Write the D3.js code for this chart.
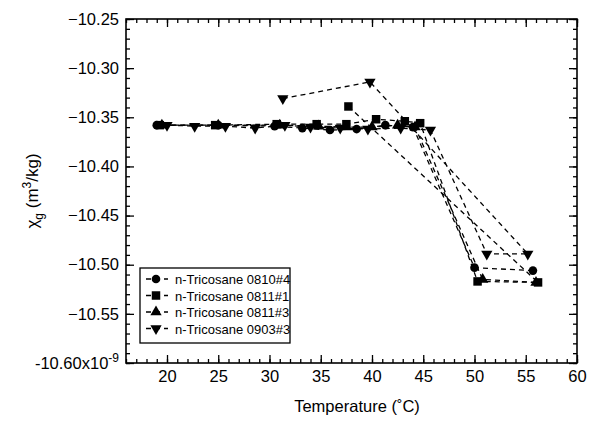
<!DOCTYPE html>
<html>
<head>
<meta charset="utf-8">
<script src="https://cdn.jsdelivr.net/npm/d3@7/dist/d3.min.js"></script>
<style>
body { margin: 0; background: #fff; }
text { font-family: "Liberation Sans", Arial, sans-serif; }
</style>
</head>
<body>
<div id="chart"></div>
<script>
// series labels, in legend order
const seriesNames = ["n-Tricosane 0810#4", "n-Tricosane 0811#1", "n-Tricosane 0811#3", "n-Tricosane 0903#3"];

// temperatures (C) and susceptibility (x1e-9 m3/kg), in measuring order
const tempA = [55.7, 50.0, 44.0, 41.3, 38.5, 35.9, 33.2, 30.5, 25.0, 19.0];
const chiA  = [-10.506, -10.503, -10.360, -10.358, -10.362, -10.363, -10.361, -10.359, -10.358, -10.358];

const tempB = [37.7, 56.2, 50.3, 44.7, 43.2, 40.4, 37.5, 34.6, 30.7, 24.7, 19.3];
const chiB  = [-10.339, -10.518, -10.517, -10.356, -10.354, -10.352, -10.357, -10.357, -10.357, -10.358, -10.358];

const tempC = [56.0, 50.8, 44.2, 42.5, 40.0, 37.5, 34.8, 31.0, 25.0, 19.5];
const chiC  = [-10.518, -10.515, -10.360, -10.358, -10.360, -10.360, -10.359, -10.358, -10.358, -10.358];

const tempD = [31.3, 39.8, 55.2, 51.2, 45.7, 42.8, 39.6, 36.9, 34.0, 31.5, 28.6, 25.7, 22.7, 20.0];
const chiD  = [-10.331, -10.314, -10.489, -10.489, -10.363, -10.361, -10.362, -10.361, -10.360, -10.358, -10.361, -10.359, -10.359, -10.358];

const xTicks = [20, 25, 30, 35, 40, 45, 50, 55, 60];
const yTicks = [-10.25, -10.30, -10.35, -10.40, -10.45, -10.50, -10.55, -10.60];

const width = 597, height = 421;
const margin = { left: 126, right: 20, top: 19, bottom: 58 };

const svg = d3.select("#chart").append("svg")
    .attr("width", width)
    .attr("height", height);

const x = d3.scaleLinear().domain([16, 60]).range([margin.left, width - margin.right]);
const y = d3.scaleLinear().domain([-10.60, -10.25]).range([height - margin.bottom, margin.top]);

const x0 = x.range()[0], x1 = x.range()[1];
const y0 = y.range()[0], y1 = y.range()[1];

const xMinor = d3.range(16, 60.01, 1);
const yMinor = d3.range(0, 36).map(i => -10.60 + i * 0.01);

// ticks on all four sides, pointing in
function addAxis(axisFn, scale, pos, major, minor, labels) {
    const g = svg.append("g").attr("transform", pos);
    g.call(axisFn(scale).tickValues(minor).tickSize(-4).tickFormat(""));
    const gm = svg.append("g").attr("transform", pos);
    gm.call(axisFn(scale).tickValues(major).tickSize(-8).tickPadding(7)
        .tickFormat(labels ? labels : ""));
    [g, gm].forEach(a => {
        a.select(".domain").remove();
        a.selectAll("line").attr("stroke", "#000").attr("stroke-width", 1.3);
    });
    return gm;
}

const xg = addAxis(d3.axisBottom, x, `translate(0,${y0})`, xTicks, xMinor, d3.format("d"));
addAxis(d3.axisTop, x, `translate(0,${y1})`, xTicks, xMinor, null);
const yg = addAxis(d3.axisLeft, y, `translate(${x0},0)`, yTicks, yMinor, d3.format(".2f"));
addAxis(d3.axisRight, y, `translate(${x1},0)`, yTicks, yMinor, null);

xg.selectAll("text").attr("font-size", 16.5).attr("fill", "#000")
    .attr("font-family", "Liberation Sans, Arial, sans-serif");
yg.selectAll("text").attr("font-size", 16.5).attr("fill", "#000")
    .attr("font-family", "Liberation Sans, Arial, sans-serif");

// exponent on the bottom label
yg.selectAll(".tick text").filter(d => Math.abs(d + 10.60) < 1e-9)
    .text("-10.60x10")
    .append("tspan").attr("dy", -7).attr("font-size", 12).text("-9");

// plot frame
svg.append("rect")
    .attr("x", x0).attr("y", y1)
    .attr("width", x1 - x0).attr("height", y0 - y1)
    .attr("fill", "none").attr("stroke", "#000").attr("stroke-width", 1.6);

const series = [
    { name: seriesNames[0], t: tempA, v: chiA, sym: d3.symbolCircle, size: 58, rot: 0 },
    { name: seriesNames[1], t: tempB, v: chiB, sym: d3.symbolSquare, size: 72, rot: 0 },
    { name: seriesNames[2], t: tempC, v: chiC, sym: d3.symbolTriangle, size: 55, rot: 0 },
    { name: seriesNames[3], t: tempD, v: chiD, sym: d3.symbolTriangle, size: 55, rot: 180 }
];

const line = d3.line().x(d => x(d[0])).y(d => y(d[1]));

series.forEach(s => {
    const pts = s.t.map((t, i) => [t, s.v[i]]);
    svg.append("path")
        .attr("d", line(pts))
        .attr("fill", "none")
        .attr("stroke", "#000")
        .attr("stroke-width", 1.3)
        .attr("stroke-dasharray", "5,4");
    svg.append("g").selectAll("path")
        .data(pts)
        .enter()
        .append("path")
        .attr("d", d3.symbol().type(s.sym).size(s.size))
        .attr("transform", d => `translate(${x(d[0])},${y(d[1])}) rotate(${s.rot})`)
        .attr("fill", "#000");
});

// legend
const lg = svg.append("g");
lg.append("rect")
    .attr("x", 140).attr("y", 268)
    .attr("width", 150).attr("height", 75)
    .attr("fill", "#fff").attr("stroke", "#000").attr("stroke-width", 1.3);

series.forEach((s, i) => {
    const ly = 279 + i * 16.5;
    lg.append("line")
        .attr("x1", 146).attr("x2", 168).attr("y1", ly).attr("y2", ly)
        .attr("stroke", "#000").attr("stroke-width", 1.3)
        .attr("stroke-dasharray", "5,4");
    lg.append("path")
        .attr("d", d3.symbol().type(s.sym).size(s.size))
        .attr("transform", `translate(156,${ly}) rotate(${s.rot})`)
        .attr("fill", "#000");
    lg.append("text")
        .attr("x", 175).attr("y", ly + 5)
        .attr("font-size", 13)
        .text(s.name);
});

// axis titles
svg.append("text")
    .attr("x", 357).attr("y", 412)
    .attr("text-anchor", "middle")
    .attr("font-size", 16.5)
    .text("Temperature (˚C)");

const yt = svg.append("text")
    .attr("transform", `translate(38,${(y0 + y1) / 2}) rotate(-90)`)
    .attr("text-anchor", "middle")
    .attr("font-size", 17);
yt.append("tspan").text("χ");
yt.append("tspan").attr("dy", 5).attr("font-size", 12).text("g");
yt.append("tspan").attr("dy", -5).text(" (m");
yt.append("tspan").attr("dy", -7).attr("font-size", 12).text("3");
yt.append("tspan").attr("dy", 7).text("/kg)");
</script>
</body>
</html>
